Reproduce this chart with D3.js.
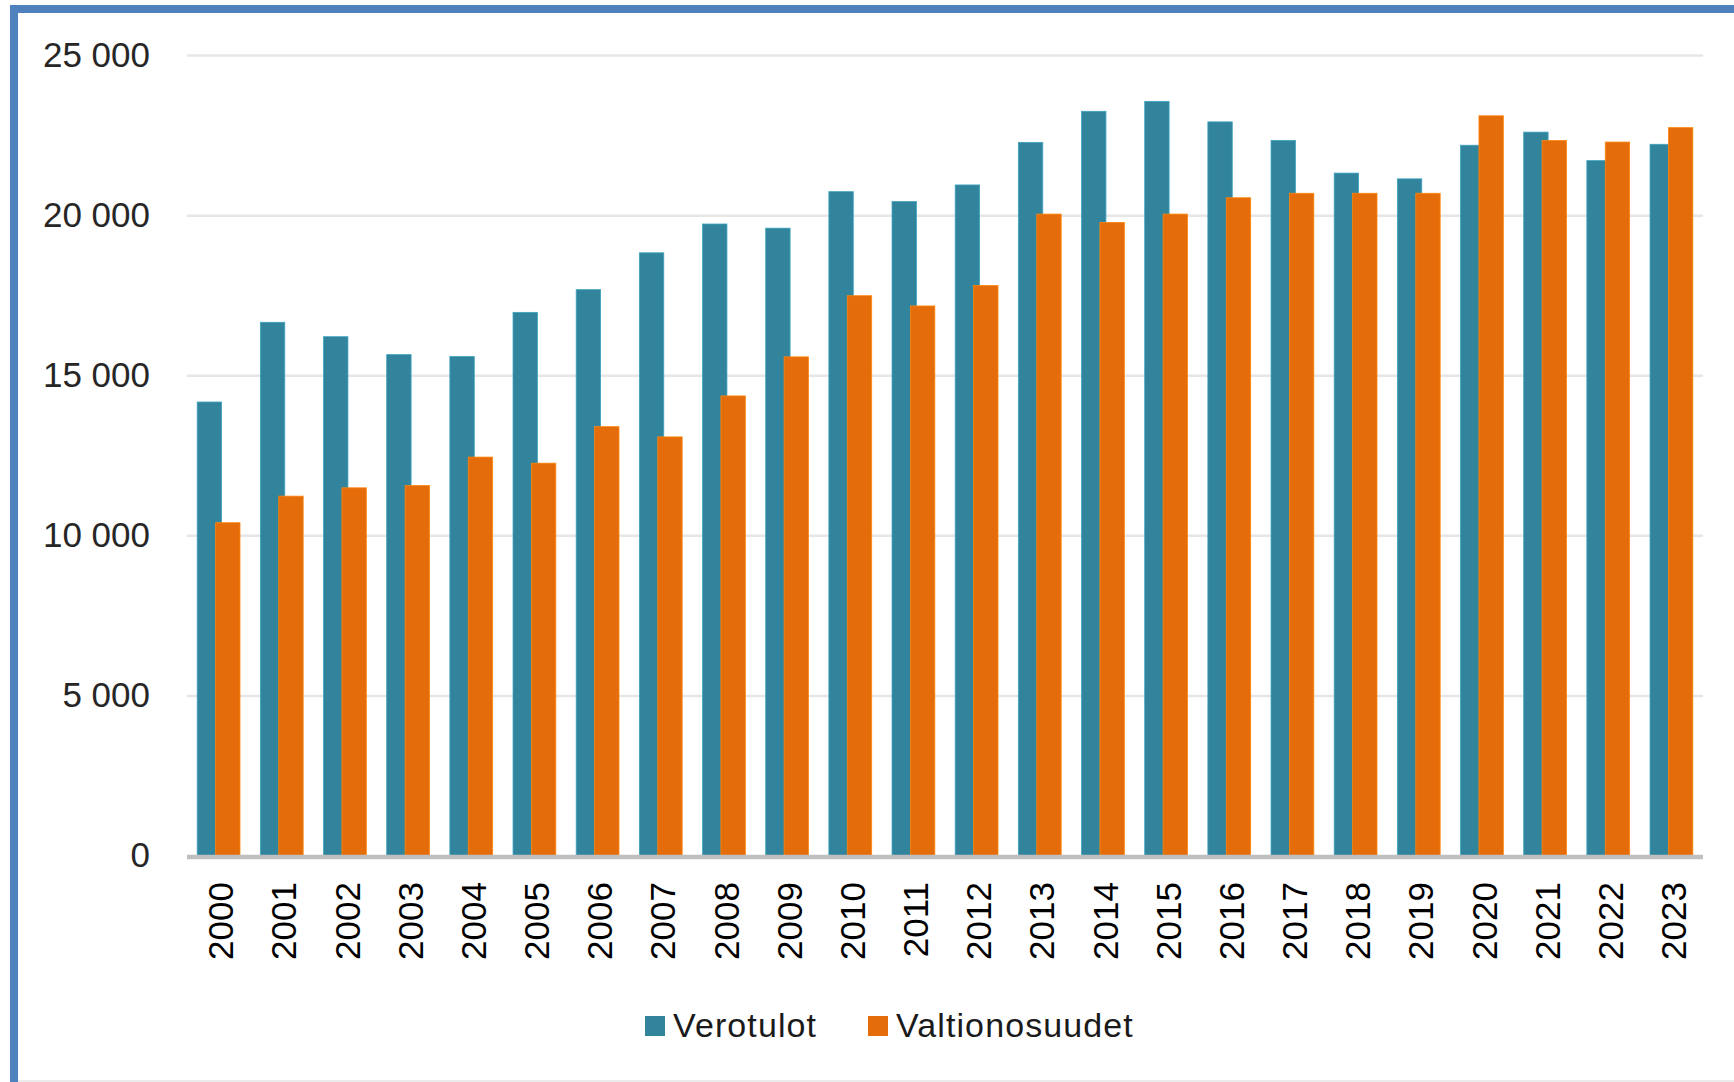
<!DOCTYPE html>
<html lang="fi">
<head>
    <meta charset="UTF-8">
    <title>Verotulot ja valtionosuudet 2000–2023</title>
    <script src="https://d3js.org/d3.v7.min.js"></script>
    <style>
        html, body { margin: 0; padding: 0; background: #fff; }
        svg { display: block; font-family: "Liberation Sans", Arial, sans-serif; }
    </style>
</head>
<body>
    <div id="chart"></div>

    <script>
        // Data (milj. euroa)
        const years = ["2000", "2001", "2002", "2003", "2004", "2005", "2006", "2007", "2008", "2009", "2010", "2011",
                       "2012", "2013", "2014", "2015", "2016", "2017", "2018", "2019", "2020", "2021", "2022", "2023"];
        const verotulot = [14180, 16670, 16220, 15660, 15600, 16980, 17690, 18840, 19740, 19610, 20750, 20440,
                           20960, 22290, 23260, 23570, 22930, 22350, 21330, 21150, 22200, 22610, 21720, 22230];
        const valtionosuudet = [10410, 11240, 11500, 11570, 12460, 12270, 13410, 13090, 14370, 15590, 17500, 17180,
                                17820, 20050, 19790, 20050, 20560, 20700, 20700, 20700, 23120, 22350, 22300, 22750];
        const seriesNames = ["Verotulot", "Valtionosuudet"];
        const colors = ["#31849B", "#E46C0A"];
        const yTicks = [0, 5000, 10000, 15000, 20000, 25000];

        const width = 1734;
        const height = 1082;
        const plot = { left: 187, right: 1703, top: 55.6, bottom: 856 };

        const svg = d3.select("#chart")
            .append("svg")
            .attr("width", width)
            .attr("height", height);

        // frame (cut off on the right and bottom like the screenshot)
        svg.append("rect")
            .attr("x", 14).attr("y", 9)
            .attr("width", width + 20).attr("height", height + 20)
            .attr("fill", "none")
            .attr("stroke", "#4F81BD")
            .attr("stroke-width", 8);
        svg.append("line")
            .attr("x1", 18).attr("x2", width).attr("y1", 1081).attr("y2", 1081)
            .attr("stroke", "#e4e4e4").attr("stroke-width", 1.5);

        const x = d3.scaleBand()
            .domain(years)
            .range([plot.left, plot.right])
            .padding(0);

        const y = d3.scaleLinear()
            .domain([0, 25000])
            .range([plot.bottom, plot.top]);

        const fmt = v => d3.format(",")(v).replace(/,/g, " ");

        // gridlines
        svg.append("g")
            .selectAll("line")
            .data(yTicks.filter(d => d > 0))
            .enter().append("line")
            .attr("x1", plot.left)
            .attr("x2", plot.right)
            .attr("y1", d => y(d))
            .attr("y2", d => y(d))
            .attr("stroke", "#e6e6e6")
            .attr("stroke-width", 2.5);

        // y labels
        svg.append("g")
            .selectAll("text")
            .data(yTicks)
            .enter().append("text")
            .attr("x", 150)
            .attr("y", d => y(d) + 11)
            .attr("text-anchor", "end")
            .attr("font-size", "35px")
            .attr("fill", "#262626")
            .text(fmt);

        // bars
        const barW = 24.4;
        const offsets = [10.2, 28.6];
        const seriesData = [verotulot, valtionosuudet];

        seriesData.forEach((vals, s) => {
            svg.append("g")
                .selectAll("rect")
                .data(vals)
                .enter().append("rect")
                .attr("x", (d, i) => x(years[i]) + offsets[s])
                .attr("y", d => y(d))
                .attr("width", barW)
                .attr("height", d => y(0) - y(d))
                .attr("fill", colors[s])
                .attr("stroke", d3.color(colors[s]).brighter(0.6))
                .attr("stroke-width", 0.8);
        });

        // x axis line
        svg.append("line")
            .attr("x1", plot.left)
            .attr("x2", plot.right)
            .attr("y1", y(0) + 1)
            .attr("y2", y(0) + 1)
            .attr("stroke", "#bfbfbf")
            .attr("stroke-width", 4.5);

        // x labels (rotated)
        svg.append("g")
            .selectAll("text")
            .data(years)
            .enter().append("text")
            .attr("transform", d => `translate(${x(d) + x.bandwidth() / 2 + 2},${y(0) + 26}) rotate(-90)`)
            .attr("dy", "0.36em")
            .attr("text-anchor", "end")
            .attr("font-size", "35px")
            .attr("fill", "#000")
            .text(d => d);

        // legend
        const legendItems = [
            { name: seriesNames[0], color: colors[0], x: 645 },
            { name: seriesNames[1], color: colors[1], x: 868 }
        ];
        const legend = svg.append("g");
        legend.selectAll("rect")
            .data(legendItems)
            .enter().append("rect")
            .attr("x", d => d.x)
            .attr("y", 1016)
            .attr("width", 20)
            .attr("height", 20)
            .attr("fill", d => d.color);
        legend.selectAll("text")
            .data(legendItems)
            .enter().append("text")
            .attr("x", d => d.x + 28)
            .attr("y", 1037)
            .attr("font-size", "34px")
            .attr("letter-spacing", "1.1px")
            .attr("fill", "#1a1a1a")
            .text(d => d.name);
    </script>
</body>
</html>
